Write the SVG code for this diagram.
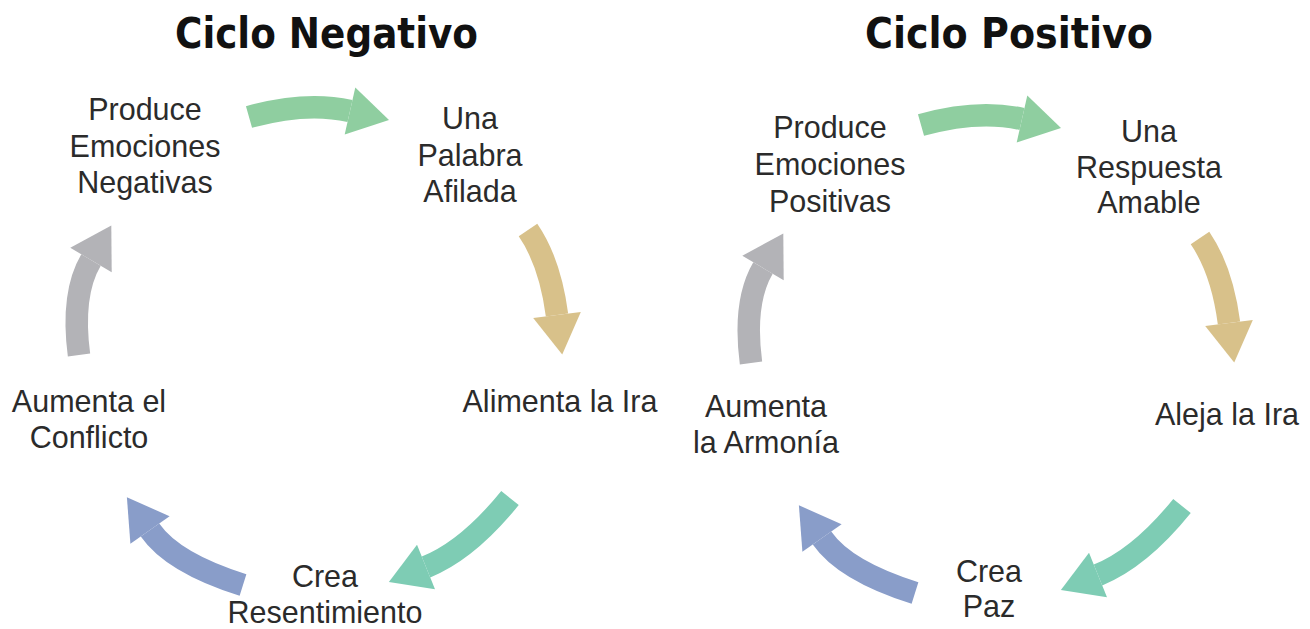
<svg xmlns="http://www.w3.org/2000/svg" width="1310" height="629" viewBox="0 0 1310 629">
<style>
.title{font-family:"DejaVu Sans Condensed","DejaVu Sans",sans-serif;font-stretch:condensed;font-weight:bold;font-size:42px;fill:#111;text-anchor:middle}
.lbl{font-family:"Liberation Sans",Arial,sans-serif;font-size:30.5px;fill:#2b2b2b;text-anchor:middle}
.body{fill:none;stroke-width:22.5;stroke-linecap:butt}
.green .body{stroke:#8FCEA0}.green polygon{fill:#8FCEA0}
.tan .body{stroke:#D8C18A}.tan polygon{fill:#D8C18A}
.teal .body{stroke:#7ECCB4}.teal polygon{fill:#7ECCB4}
.blue .body{stroke:#899DC9}.blue polygon{fill:#899DC9}
.gray .body{stroke:#B3B3B7}.gray polygon{fill:#B3B3B7}
</style>
<rect width="1310" height="629" fill="#ffffff"/>
<defs>
<g id="arrowset">
  <g class="green"><path class="body" d="M249,117 Q306,101 350,111"/><polygon points="355.3,87.6 389,119.9 344.7,134.4"/></g>
  <g class="tan"><path class="body" d="M528,230 Q550,262 557,315"/><polygon points="580.8,311.9 562.2,354.6 533.2,318.1"/></g>
  <g class="teal"><path class="body" d="M510,498 Q468,550 426,567"/><polygon points="417,544.8 388.9,582 435,589.2"/></g>
  <g class="blue"><path class="body" d="M243,585 Q173,563 150,530"/><polygon points="169.6,516.2 126.9,497.3 130.4,543.8"/></g>
  <g class="gray"><path class="body" d="M79,355 Q71,294 91,260"/><polygon points="111.7,272.2 111.3,225.5 70.3,247.8"/></g>
</g>
</defs>
<g id="connectors">
  <use href="#arrowset"/>
  <use href="#arrowset" transform="translate(672,8)"/>
</g>
<g id="title-negativo"><text class="title" x="326.5" y="48" textLength="303" lengthAdjust="spacingAndGlyphs">Ciclo Negativo</text></g>
<g id="title-positivo"><text class="title" x="1009" y="48" textLength="288" lengthAdjust="spacingAndGlyphs">Ciclo Positivo</text></g>
<g id="neg-produce"><text class="lbl" x="145" y="120">Produce</text><text class="lbl" x="145" y="157">Emociones</text><text class="lbl" x="145" y="193">Negativas</text></g>
<g id="neg-palabra"><text class="lbl" x="470" y="129">Una</text><text class="lbl" x="470" y="166">Palabra</text><text class="lbl" x="470" y="202">Afilada</text></g>
<g id="neg-alimenta"><text class="lbl" x="560" y="412">Alimenta la Ira</text></g>
<g id="neg-crea"><text class="lbl" x="325" y="587">Crea</text><text class="lbl" x="325" y="623">Resentimiento</text></g>
<g id="neg-aumenta"><text class="lbl" x="89" y="412">Aumenta el</text><text class="lbl" x="89" y="448">Conflicto</text></g>
<g id="pos-produce"><text class="lbl" x="830" y="138">Produce</text><text class="lbl" x="830" y="175">Emociones</text><text class="lbl" x="830" y="212">Positivas</text></g>
<g id="pos-respuesta"><text class="lbl" x="1149" y="142">Una</text><text class="lbl" x="1149" y="178">Respuesta</text><text class="lbl" x="1149" y="213">Amable</text></g>
<g id="pos-aleja"><text class="lbl" x="1227" y="425">Aleja la Ira</text></g>
<g id="pos-crea"><text class="lbl" x="989" y="582">Crea</text><text class="lbl" x="989" y="617">Paz</text></g>
<g id="pos-aumenta"><text class="lbl" x="766" y="417">Aumenta</text><text class="lbl" x="766" y="453">la Armonía</text></g>
</svg>
